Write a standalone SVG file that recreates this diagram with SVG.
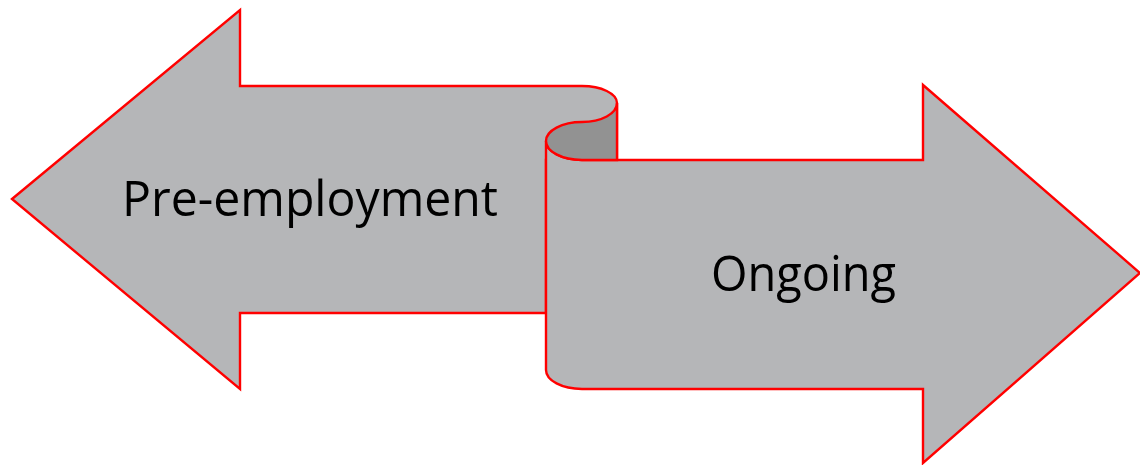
<svg xmlns="http://www.w3.org/2000/svg" width="1140" height="465" viewBox="0 0 1140 465">
  <style>
    .band { fill: #b5b6b8; stroke: #ff0000; stroke-width: 2.4; stroke-linejoin: miter; }
    .fold { fill: #929292; stroke: #ff0000; stroke-width: 2.4; }
    .label { font-family: "Open Sans", "Liberation Sans", sans-serif; font-size: 50px; fill: #000000; }
  </style>
  <rect width="1140" height="465" fill="#ffffff"/>
  <!-- left-pointing band -->
  <g id="pre-employment">
    <path class="band" d="M12,199 L240,10 L240,86 L582,86 A35,17 0 0 1 617,103 L617,160 L546,160 L546,313 L240,313 L240,389 Z"/>
    <text class="label" x="122" y="216" textLength="376" lengthAdjust="spacingAndGlyphs">Pre-employment</text>
  </g>
  <!-- right-pointing band -->
  <g id="ongoing">
    <path class="band" d="M546,141 A36,19 0 0 0 582,160 L923,160 L923,85 L1140,273 L923,463 L923,389 L582,389 A36,19 0 0 1 546,370 Z"/>
    <text class="label" x="711" y="291" textLength="185" lengthAdjust="spacingAndGlyphs">Ongoing</text>
  </g>
  <!-- curled fold joining the two bands -->
  <g id="fold">
    <path class="fold" d="M617,103 A35,19 0 0 1 582,122 A36,19 0 0 0 546,141 A36,19 0 0 0 582,160 L617,160 Z"/>
  </g>
</svg>
